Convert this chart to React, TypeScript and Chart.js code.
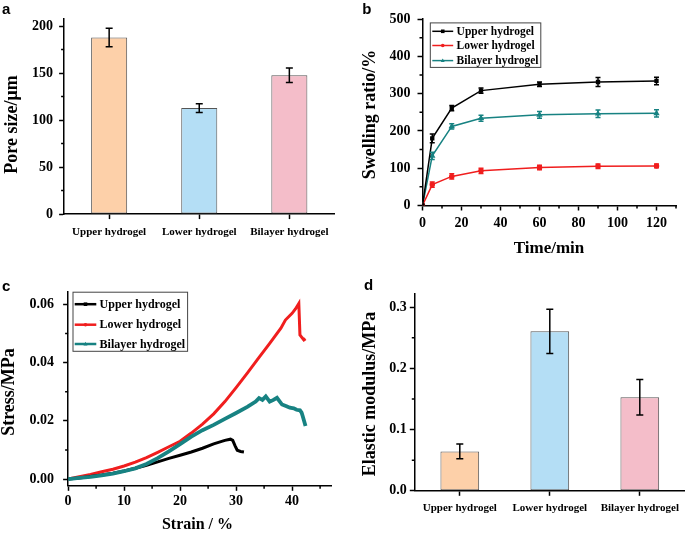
import React, { useEffect, useRef } from 'react';
import { Chart, registerables } from 'chart.js';
Chart.register(...registerables);

const SERIF = "'Liberation Serif', 'Times New Roman', serif";
const SANS = "'Liberation Sans', Arial, sans-serif";

// ---------- Panel a: pore size ----------
const GROUPS = ['Upper hydrogel', 'Lower hydrogel', 'Bilayer hydrogel'];
const PORE_SIZE = [187.9, 112.8, 147.7];
const PORE_SIZE_ERR = [9.9, 4.7, 7.6];
const PORE_TICKS = [0, 50, 100, 150, 200];
const PORE_MINOR = [25, 75, 125, 175];

// ---------- Panel b: swelling ratio ----------
const TIME = [0, 5, 15, 30, 60, 90, 120];
const SWELL_UPPER = [0, 180, 261, 308, 325, 331, 334];
const SWELL_UPPER_ERR = [0, 12, 7, 7, 6, 12, 10];
const SWELL_LOWER = [0, 56, 78, 93, 102, 105, 106];
const SWELL_LOWER_ERR = [0, 7, 7, 7, 6, 6, 5];
const SWELL_BILAYER = [0, 133, 212, 234, 243, 246, 247];
const SWELL_BILAYER_ERR = [0, 10, 7, 8, 9, 10, 10];
const TIME_TICKS = [0, 20, 40, 60, 80, 100, 120];
const TIME_MINOR = [10, 30, 50, 70, 90, 110, 130];
const SWELL_TICKS = [0, 100, 200, 300, 400, 500];
const SWELL_MINOR = [50, 150, 250, 350, 450];

// ---------- Panel c: stress-strain ----------
const STRAIN_UPPER = [0, 2, 4, 6, 8, 10, 12, 14, 16, 18, 20, 22, 24, 26, 27, 28, 29, 29.4, 29.8, 30.2, 30.8, 31.4];
const STRESS_UPPER = [0, 0.0004, 0.0009, 0.0014, 0.002, 0.0028, 0.0037, 0.0047, 0.0059, 0.0071, 0.0082, 0.0093, 0.0106, 0.0121, 0.0127, 0.0133, 0.0137, 0.0133, 0.0115, 0.0099, 0.0095, 0.0093];
const STRAIN_LOWER = [0, 2, 4, 6, 8, 10, 12, 14, 16, 18, 20, 22, 24, 26, 28, 30, 32, 34, 36, 38, 38.8, 40, 40.6, 41.2, 41.4, 41.8, 42.1, 42.4];
const STRESS_LOWER = [0, 0.0008, 0.0016, 0.0025, 0.0034, 0.0045, 0.0058, 0.0074, 0.0092, 0.0111, 0.013, 0.0158, 0.0189, 0.0224, 0.0266, 0.0314, 0.0364, 0.0415, 0.0466, 0.0518, 0.0546, 0.0569, 0.0584, 0.0603, 0.0495, 0.0485, 0.0478, 0.0482];
const STRAIN_BILAYER = [0, 2, 4, 6, 8, 10, 12, 14, 16, 18, 20, 22, 24, 26, 28, 30, 32, 33.5, 34.1, 34.7, 35.3, 36.0, 36.6, 37.3, 38.2, 39.0, 39.6, 40.3, 40.8, 41.4, 41.7, 41.9, 42.4];
const STRESS_BILAYER = [0, 0.0004, 0.0008, 0.0013, 0.0019, 0.0027, 0.0037, 0.0052, 0.0072, 0.0095, 0.012, 0.0146, 0.0168, 0.0186, 0.0207, 0.0227, 0.0248, 0.0266, 0.0278, 0.0272, 0.0284, 0.0266, 0.0271, 0.0279, 0.0256, 0.025, 0.0245, 0.0243, 0.0238, 0.0236, 0.0228, 0.0216, 0.0182];
const STRAIN_TICKS = [0, 10, 20, 30, 40];
const STRAIN_MINOR = [5, 15, 25, 35, 45];
const STRESS_TICKS = [0, 0.02, 0.04, 0.06];
const STRESS_TICK_LABELS = ['0.00', '0.02', '0.04', '0.06'];
const STRESS_MINOR = [0.01, 0.03, 0.05];

// ---------- Panel d: elastic modulus ----------
const MODULUS = [0.0644, 0.2605, 0.153];
const MODULUS_ERR = [0.012, 0.036, 0.029];
const MODULUS_TICKS = [0, 0.1, 0.2, 0.3];
const MODULUS_TICK_LABELS = ['0.0', '0.1', '0.2', '0.3'];
const MODULUS_MINOR = [0.05, 0.15, 0.25];

const BAR_FILLS = ['#FDD0A9', '#B4DEF5', '#F4BDC9'];
const BAR_EDGE = '#555555';
const C_BLACK = '#000000';
const C_RED = '#F01E1E';
const C_TEAL = '#178282';

// ---------- plugins ----------
const errorBars = (sets: any[]) => ({
  id: 'errorBars',
  afterDatasetsDraw(chart: any) {
    const { ctx } = chart;
    const ys = chart.scales.y;
    sets.forEach((s) => {
      const meta = chart.getDatasetMeta(s.index);
      ctx.save();
      ctx.strokeStyle = s.color;
      ctx.lineWidth = s.width;
      meta.data.forEach((el: any, i: number) => {
        const e = s.errors[i];
        if (!e) return;
        const v = meta.controller.getParsed(i).y;
        const x = el.x;
        const yt = ys.getPixelForValue(v + e);
        const yb = ys.getPixelForValue(v - e);
        ctx.beginPath();
        ctx.moveTo(x, yt); ctx.lineTo(x, yb);
        ctx.moveTo(x - s.cap, yt); ctx.lineTo(x + s.cap, yt);
        ctx.moveTo(x - s.cap, yb); ctx.lineTo(x + s.cap, yb);
        ctx.stroke();
      });
      ctx.restore();
    });
  },
});

const minorTicks = (xVals: number[], yVals: number[], len: number) => ({
  id: 'minorTicks',
  afterDraw(chart: any) {
    const { ctx, chartArea: a } = chart;
    const { x, y } = chart.scales;
    ctx.save();
    ctx.strokeStyle = '#000';
    ctx.lineWidth = 1.5;
    ctx.beginPath();
    xVals.forEach((v) => {
      const p = x.getPixelForValue(v);
      ctx.moveTo(p, a.bottom); ctx.lineTo(p, a.bottom + len);
    });
    yVals.forEach((v) => {
      const p = y.getPixelForValue(v);
      ctx.moveTo(a.left, p); ctx.lineTo(a.left - len, p);
    });
    ctx.stroke();
    ctx.restore();
  },
});

const texts = (items: any[]) => ({
  id: 'texts',
  afterDraw(chart: any) {
    const ctx = chart.ctx;
    items.forEach((t) => {
      ctx.save();
      ctx.font = t.font;
      ctx.fillStyle = '#000';
      ctx.textAlign = t.align || 'center';
      ctx.textBaseline = t.baseline || 'middle';
      ctx.translate(t.x, t.y);
      if (t.rotate) ctx.rotate(t.rotate);
      ctx.fillText(t.text, 0, 0);
      ctx.restore();
    });
  },
});

const drawMarker = (ctx: any, style: string, x: number, y: number, r: number) => {
  ctx.beginPath();
  if (style === 'rect') ctx.rect(x - r, y - r, 2 * r, 2 * r);
  else if (style === 'triangle') { ctx.moveTo(x, y - r * 1.2); ctx.lineTo(x + r * 1.1, y + r * 0.8); ctx.lineTo(x - r * 1.1, y + r * 0.8); ctx.closePath(); }
  else ctx.arc(x, y, r, 0, Math.PI * 2);
  ctx.fill();
};

const boxLegend = (spec: any) => ({
  id: 'boxLegend',
  afterDraw(chart: any) {
    const ctx = chart.ctx;
    ctx.save();
    ctx.fillStyle = '#fff';
    ctx.fillRect(spec.x, spec.y, spec.w, spec.h);
    ctx.strokeStyle = '#444';
    ctx.lineWidth = 1;
    ctx.strokeRect(spec.x, spec.y, spec.w, spec.h);
    chart.data.datasets.forEach((ds: any, i: number) => {
      const y = spec.rows[i];
      ctx.strokeStyle = ds.borderColor;
      ctx.lineWidth = spec.lineWidth;
      ctx.beginPath();
      ctx.moveTo(spec.x1, y); ctx.lineTo(spec.x2, y);
      ctx.stroke();
      ctx.fillStyle = ds.borderColor;
      drawMarker(ctx, spec.markers[i], (spec.x1 + spec.x2) / 2, y, 1.8);
      ctx.fillStyle = '#000';
      ctx.font = spec.font;
      ctx.textAlign = 'left';
      ctx.textBaseline = 'middle';
      ctx.fillText(ds.label, spec.tx, y + 0.5);
    });
    ctx.restore();
  },
});

// ---------- shared axis helpers ----------
const axisGrid = (tl: number, offset = false) => ({
  display: true, drawOnChartArea: false, drawTicks: true, tickLength: tl,
  tickWidth: 1.5, tickColor: '#000', color: '#000', offset,
});
const axisBorder = { display: true, color: '#000', width: 1.5 };
const tickFont = (size: number) => ({ family: SERIF, size, weight: 'bold' as const });

const barConfig = (values: number[], errs: number[], o: any) => ({
  type: 'bar',
  data: {
    labels: GROUPS,
    datasets: [{
      label: o.label, data: values, backgroundColor: BAR_FILLS, borderColor: BAR_EDGE,
      borderWidth: 1, borderSkipped: false, barPercentage: o.barPct, categoryPercentage: 1,
    }],
  },
  options: {
    animation: false, responsive: false, events: [],
    layout: { padding: { left: 0, top: o.top, right: o.right, bottom: 0 } },
    plugins: { legend: { display: false }, tooltip: { enabled: false } },
    scales: {
      x: {
        type: 'category', offset: true,
        grid: axisGrid(5, false), border: axisBorder,
        ticks: { color: '#000', font: tickFont(11), padding: o.xPad, maxRotation: 0, autoSkip: false },
        afterFit: (s: any) => { s.height = o.xH; },
      },
      y: {
        min: 0, max: o.yMax,
        afterBuildTicks: (s: any) => { s.ticks = o.yTicks.map((v: number) => ({ value: v })); },
        grid: axisGrid(5), border: axisBorder,
        ticks: { color: '#000', font: tickFont(14), padding: o.yPad, callback: o.yCb },
        afterFit: (s: any) => { s.width = o.yW; },
      },
    },
  },
  plugins: [
    errorBars([{ index: 0, errors: errs, color: '#000', width: 1.5, cap: 3.5 }]),
    minorTicks([], o.yMinor, 3),
    texts(o.texts),
  ],
});

const buildA = () => barConfig(PORE_SIZE, PORE_SIZE_ERR, {
  label: 'Pore size', barPct: 0.4, top: 18.3, right: 7.6, xH: 45.9, yW: 64.1, yMax: 208.3,
  yTicks: PORE_TICKS, yMinor: PORE_MINOR, xPad: 6, yPad: 6, yCb: (v: any) => String(v),
  texts: [
    { text: 'a', x: 2, y: 13.5, font: `bold 15px ${SANS}`, align: 'left', baseline: 'alphabetic' },
    { text: 'Pore size/μm', x: 12, y: 124.5, rotate: -Math.PI / 2, font: `bold 18px ${SERIF}` },
  ],
});

const buildD = () => barConfig(MODULUS, MODULUS_ERR, {
  label: 'Elastic modulus', barPct: 0.43, top: 33.7, right: 0.2, xH: 43.2, yW: 72.8, yMax: 0.322,
  yTicks: MODULUS_TICKS, yMinor: MODULUS_MINOR, xPad: 6, yPad: 3,
  yCb: (_v: any, i: number) => MODULUS_TICK_LABELS[i],
  texts: [
    { text: 'd', x: 22, y: 30.3, font: `bold 15px ${SANS}`, align: 'left', baseline: 'alphabetic' },
    { text: 'Elastic modulus/MPa', x: 28.6, y: 134, rotate: -Math.PI / 2, font: `bold 18px ${SERIF}` },
  ],
});

const xy = (xs: number[], ys: number[]) => xs.map((x, i) => ({ x, y: ys[i] }));

const buildB = () => ({
  type: 'line',
  data: {
    datasets: [
      { label: 'Upper hydrogel', data: xy(TIME, SWELL_UPPER), borderColor: C_BLACK, backgroundColor: C_BLACK, borderWidth: 1.5, pointRadius: 2, pointStyle: 'rect', tension: 0 },
      { label: 'Lower hydrogel', data: xy(TIME, SWELL_LOWER), borderColor: C_RED, backgroundColor: C_RED, borderWidth: 1.5, pointRadius: 2, pointStyle: 'circle', tension: 0 },
      { label: 'Bilayer hydrogel', data: xy(TIME, SWELL_BILAYER), borderColor: C_TEAL, backgroundColor: C_TEAL, borderWidth: 1.5, pointRadius: 2.2, pointStyle: 'triangle', tension: 0 },
    ],
  },
  options: {
    animation: false, responsive: false, events: [],
    layout: { padding: { left: 0, top: 19, right: 9, bottom: 0 } },
    plugins: { legend: { display: false }, tooltip: { enabled: false } },
    scales: {
      x: {
        type: 'linear', min: 0, max: 130,
        afterBuildTicks: (s: any) => { s.ticks = TIME_TICKS.map((v) => ({ value: v })); },
        grid: axisGrid(5), border: axisBorder,
        ticks: { color: '#000', font: tickFont(14), padding: 4, maxRotation: 0 },
        afterFit: (s: any) => { s.height = 54.5; },
      },
      y: {
        type: 'linear', min: 0, max: 500,
        afterBuildTicks: (s: any) => { s.ticks = SWELL_TICKS.map((v) => ({ value: v })); },
        grid: axisGrid(5), border: axisBorder,
        ticks: { color: '#000', font: tickFont(14), padding: 7 },
        afterFit: (s: any) => { s.width = 80.5; },
      },
    },
  },
  plugins: [
    errorBars([
      { index: 0, errors: SWELL_UPPER_ERR, color: C_BLACK, width: 1.5, cap: 2.5 },
      { index: 1, errors: SWELL_LOWER_ERR, color: C_RED, width: 1.5, cap: 2.5 },
      { index: 2, errors: SWELL_BILAYER_ERR, color: C_TEAL, width: 1.5, cap: 2.5 },
    ]),
    minorTicks(TIME_MINOR, SWELL_MINOR, 3),
    boxLegend({ x: 88.3, y: 22.9, w: 110.5, h: 44.5, rows: [31.3, 45.5, 60.6], x1: 90.3, x2: 111.2, tx: 114.6, lineWidth: 1.5, markers: ['rect', 'circle', 'triangle'], font: `bold 11.5px ${SERIF}` }),
    texts([
      { text: 'b', x: 20.2, y: 13.5, font: `bold 15px ${SANS}`, align: 'left', baseline: 'alphabetic' },
      { text: 'Swelling ratio/%', x: 28.6, y: 114.6, rotate: -Math.PI / 2, font: `bold 18px ${SERIF}` },
      { text: 'Time/min', x: 207, y: 248.5, font: `bold 17px ${SERIF}` },
    ]),
  ],
});

const buildC = () => ({
  type: 'line',
  data: {
    datasets: [
      { label: 'Upper hydrogel', data: xy(STRAIN_UPPER, STRESS_UPPER), borderColor: C_BLACK, backgroundColor: C_BLACK, borderWidth: 3, pointRadius: 0, tension: 0, order: 1 },
      { label: 'Lower hydrogel', data: xy(STRAIN_LOWER, STRESS_LOWER), borderColor: C_RED, backgroundColor: C_RED, borderWidth: 3, pointRadius: 0, tension: 0, order: 2 },
      { label: 'Bilayer hydrogel', data: xy(STRAIN_BILAYER, STRESS_BILAYER), borderColor: C_TEAL, backgroundColor: C_TEAL, borderWidth: 3.8, pointRadius: 0, tension: 0, order: 0 },
    ],
  },
  options: {
    animation: false, responsive: false, events: [],
    layout: { padding: { left: 0, top: 31.5, right: 10.7, bottom: 0 } },
    plugins: { legend: { display: false }, tooltip: { enabled: false } },
    scales: {
      x: {
        type: 'linear', min: 0, max: 47,
        afterBuildTicks: (s: any) => { s.ticks = STRAIN_TICKS.map((v) => ({ value: v })); },
        grid: axisGrid(5), border: axisBorder,
        ticks: { color: '#000', font: tickFont(14), padding: 2, maxRotation: 0 },
        afterFit: (s: any) => { s.height = 48.2; },
      },
      y: {
        type: 'linear', min: -0.0023, max: 0.0644,
        afterBuildTicks: (s: any) => { s.ticks = STRESS_TICKS.map((v) => ({ value: v })); },
        grid: axisGrid(5), border: axisBorder,
        ticks: { color: '#000', font: tickFont(14), padding: 9, callback: (_v: any, i: number) => STRESS_TICK_LABELS[i] },
        afterFit: (s: any) => { s.width = 68.1; },
      },
    },
  },
  plugins: [
    minorTicks(STRAIN_MINOR, STRESS_MINOR, 3),
    boxLegend({ x: 73, y: 32.2, w: 114.6, h: 59.1, rows: [44.2, 64.7, 84], x1: 74.7, x2: 96.3, tx: 99.6, lineWidth: 2.5, markers: ['rect', 'circle', 'triangle'], font: `bold 12px ${SERIF}` }),
    texts([
      { text: 'c', x: 2, y: 30.5, font: `bold 15px ${SANS}`, align: 'left', baseline: 'alphabetic' },
      { text: 'Stress/MPa', x: 9.5, y: 132, rotate: -Math.PI / 2, font: `bold 18px ${SERIF}` },
      { text: 'Strain / %', x: 197.5, y: 264.8, font: `bold 16px ${SERIF}` },
    ]),
  ],
});

function ChartPanel({ left, top, width, height, build }: any) {
  const ref = useRef<HTMLCanvasElement | null>(null);
  useEffect(() => {
    const chart = new Chart(ref.current as HTMLCanvasElement, build() as any);
    return () => chart.destroy();
  }, []);
  return (
    <canvas
      ref={ref}
      width={width}
      height={height}
      style={{ position: 'absolute', left, top, width, height, display: 'block' }}
    />
  );
}

export default function App() {
  return (
    <div style={{ position: 'fixed', left: 0, top: 0, width: 685, height: 534, background: '#fff', overflow: 'hidden' }}>
      <ChartPanel left={0} top={0} width={342} height={260} build={buildA} />
      <ChartPanel left={342} top={0} width={343} height={260} build={buildB} />
      <ChartPanel left={0} top={260} width={342} height={274} build={buildC} />
      <ChartPanel left={342} top={260} width={343} height={274} build={buildD} />
    </div>
  );
}
